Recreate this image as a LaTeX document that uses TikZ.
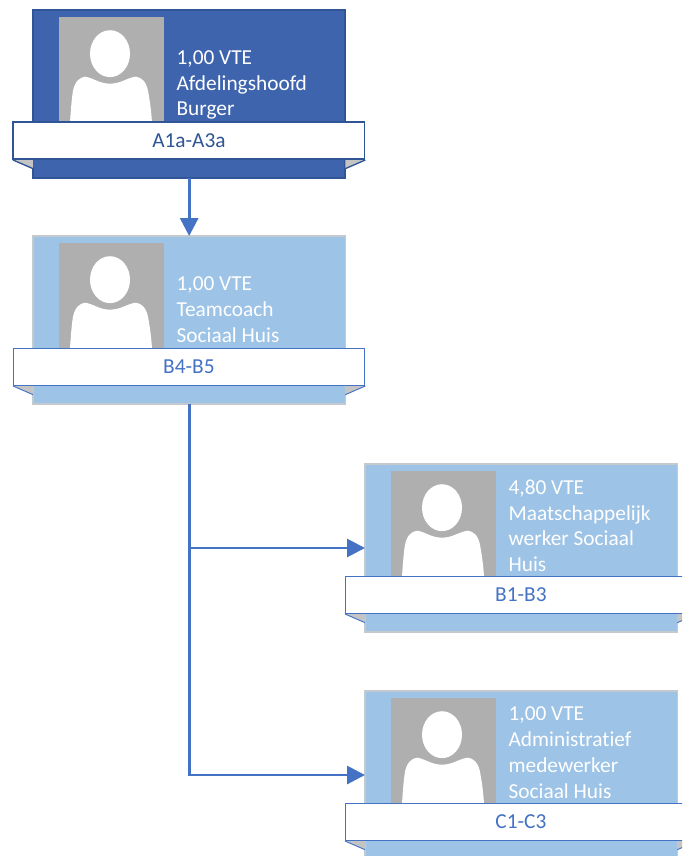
\documentclass[tikz,border=0pt]{standalone}
\usepackage{fontspec}
\setmainfont{Carlito}[Ligatures=NoCommon]
\usetikzlibrary{positioning}
\usetikzlibrary{arrows.meta}

\definecolor{topfill}{HTML}{3E64AE}
\definecolor{topline}{HTML}{2F5597}
\definecolor{subfill}{HTML}{9DC3E6}
\definecolor{subline}{HTML}{C4C9CE}
\definecolor{linkblue}{HTML}{4472C4}
\definecolor{photogrey}{HTML}{AFAFAF}
\definecolor{foldgrey}{HTML}{C4C4C4}

\tikzset{
	cardbase/.style = {anchor = north west, minimum width = 234.25pt, minimum height = 126pt, inner sep = 0pt, outer sep = 0pt},
	topcard/.style = {cardbase, fill = topfill, draw = topline, line width = 1.3pt},
	subcard/.style = {cardbase, fill = subfill, draw = subline, line width = .8pt},
	photo/.style = {fill = photogrey, minimum width = 78.75pt, minimum height = 79.5pt, inner sep = 0pt, outer sep = 0pt},
	cardtext/.style = {text = white, align = left, inner sep = 0pt, font = \fontsize{16}{19.3}\selectfont},
	ribbonbase/.style = {fill = white, minimum width = 263.5pt, minimum height = 27.75pt, inner sep = 0pt, outer sep = 0pt, font = \fontsize{16}{19}\selectfont},
	topribbon/.style = {ribbonbase, draw = topline, text = topline, line width = 1.2pt},
	subribbon/.style = {ribbonbase, draw = linkblue, text = linkblue, line width = .7pt},
	topfold/.style = {draw = topline, line width = 1pt},
	subfold/.style = {draw = linkblue, line width = .7pt},
	link/.style = {draw = linkblue, line width = 2.2pt, -{Triangle[length = 13.5pt, width = 13.5pt]}},
	person/.pic = {
		\fill[white] (51,37) ellipse [x radius = 15pt, y radius = 17.6pt];
		\fill[white] (11,106) .. controls (12,90) and (13,80) .. (14,74) .. controls (16,65) and (20,61) .. (26,60) .. controls (34,61) and (40,67) .. (51,67) .. controls (62,67) and (68,61) .. (77,60) .. controls (83,61) and (87,65) .. (89,74) .. controls (90,80) and (92,90) .. (93,106) -- cycle;
	}
}

% name, top left corner, kind (top or sub), text shift, text, ribbon label
\newcommand{\orgcard}[6]{
	\node[#3card](#1) at #2 {};
	\node[photo, below right = 5pt and 19.5pt of #1.north west](#1photo){};
	\pic at (#1photo.north west) {person};
	\node[cardtext, right = 9.25pt of #1photo, yshift = #4](#1text){#5};
	\fill[foldgrey] (#1.north west) ++(-15pt,-112.5pt) -- ++(15pt,-6.5pt) -- ++(0,6.5pt) -- cycle;
	\fill[foldgrey] (#1.north east) ++(15pt,-112.5pt) -- ++(-15pt,-6.5pt) -- ++(0,6.5pt) -- cycle;
	\draw[#3fold] (#1.north west) ++(-15pt,-112.5pt) -- ++(15pt,-6.5pt);
	\draw[#3fold] (#1.north east) ++(15pt,-112.5pt) -- ++(-15pt,-6.5pt);
	\node[#3ribbon, below = 84pt of #1.north, xshift = -.2pt](#1ribbon){#6};
}

\begin{document}
\begin{tikzpicture}[x = .75pt, y = -.75pt]
	\clip (0,0) rectangle (682,856);
	\fill[white] (0,0) rectangle (682,856);
	
	\orgcard{hoofd}{(33,10)}{top}{-11.5pt}{1,00 VTE\\Afdelingshoofd\\Burger}{A1a-A3a}
	\orgcard{coach}{(33,236)}{sub}{-10.5pt}{1,00 VTE\\Teamcoach\\Sociaal Huis}{B4-B5}
	\orgcard{werker}{(365,464)}{sub}{-1.5pt}{4,80 VTE\\Maatschappelijk\\werker Sociaal\\Huis}{B1-B3}
	\orgcard{admin}{(365,691)}{sub}{-1.5pt}{1,00 VTE\\Administratief\\medewerker\\Sociaal Huis}{C1-C3}
	
	\draw[link] (hoofd.south) -- (coach.north);
	\draw[link] (coach.south) |- (werker.west);
	\draw[link] (coach.south) |- (admin.west);
\end{tikzpicture}
\end{document}
